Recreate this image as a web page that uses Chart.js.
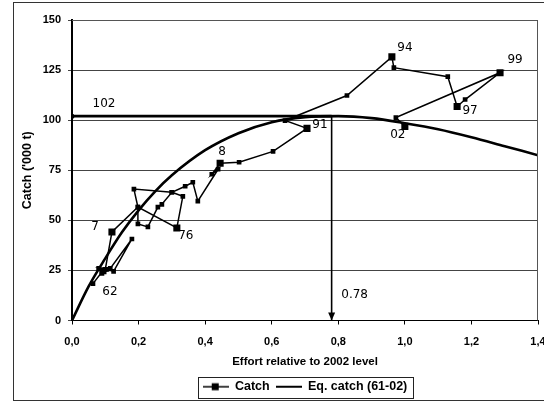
<!DOCTYPE html>
<html>
<head>
<meta charset="utf-8">
<script src="https://cdn.jsdelivr.net/npm/chart.js@4.4.1/dist/chart.umd.min.js"></script>
<style>
  html, body { margin: 0; padding: 0; background: #fff; }
  #c { display: block; }
</style>
</head>
<body>
<canvas id="c" width="544" height="403"></canvas>
<script>
// Yearly catch ('000 t) against fishing effort relative to the 2002 level
const catchEffort = [0.063, 0.093, 0.080, 0.105, 0.125, 0.180, 0.115, 0.090, 0.100, 0.120,
                     0.198, 0.186, 0.300, 0.333, 0.315, 0.198, 0.198, 0.228, 0.258, 0.270,
                     0.300, 0.340, 0.363, 0.378, 0.439, 0.420, 0.445, 0.502, 0.604, 0.706,
                     0.640, 0.826, 0.961, 0.967, 1.129, 1.157, 1.181, 1.286, 0.973, 1.000];
const catchTonnes = [18.4, 24.8, 26.0, 25.5, 24.5, 40.7, 26.0, 23.5, 25.5, 44.2,
                     56.6, 65.6, 64.0, 62.0, 46.2, 56.6, 48.2, 46.7, 56.6, 58.0,
                     64.0, 67.0, 69.0, 59.6, 75.5, 73.0, 78.5, 79.0, 84.4, 95.9,
                     99.8, 112.3, 131.6, 126.2, 121.7, 106.8, 110.3, 123.7, 101.3, 96.9];
const catchYearTags = ['', '62', '', '', '', '', '', '', '', '7',
                       '', '', '', '', '76', '', '', '', '', '',
                       '', '', '', '', '', '', '8', '', '', '91',
                       '', '', '94', '', '', '97', '', '99', '', '02'];

// Equilibrium catch curve (fitted over 1961-02)
const eqEffort = [0, 0.05, 0.10, 0.15, 0.20, 0.25, 0.30, 0.40, 0.50, 0.60, 0.70, 0.80, 0.90, 1.00, 1.10, 1.20, 1.30, 1.40];
const eqCatch  = [0, 17.0, 31.0, 44.0, 55.0, 64.5, 72.5, 85.0, 93.5, 99.0, 101.5, 102.0, 101.0, 98.5, 95.5, 91.5, 87.0, 82.5];

// Maximum equilibrium catch and the effort that gives it
const msyCatch = 102;
const msyEffort = 0.78;
const msyCatchLabel = '102';
const msyEffortLabel = '0.78';

// Axis tick labels
const xTickLabels = ['0,0', '0,2', '0,4', '0,6', '0,8', '1,0', '1,2', '1,4'];
const yTickLabels = ['0', '25', '50', '75', '100', '125', '150'];

// Where each year tag sits relative to its marker (px)
const tagOffsets = {
  '62': [7, 21], '7': [-17, -5], '76': [9, 8], '8': [2, -11], '91': [13, -4],
  '94': [13, -9], '97': [13, 4], '99': [15, -13], '02': [-7, 8]
};

const FONT = "'Liberation Sans', Arial, sans-serif";
const LABEL_FONT = "12px 'DejaVu Sans', sans-serif";

// Legend icons: line with a square marker, and a plain line
function makeIcon(withMarker) {
  const cv = document.createElement('canvas');
  cv.width = 26; cv.height = 10;
  const g = cv.getContext('2d');
  g.strokeStyle = '#000';
  g.lineWidth = withMarker ? 1.5 : 2;
  g.beginPath(); g.moveTo(0, 5); g.lineTo(26, 5); g.stroke();
  if (withMarker) { g.fillStyle = '#000'; g.fillRect(9, 1.5, 7, 7); }
  return cv;
}
const legendIcons = [makeIcon(true), makeIcon(false)];

// Centre the legend under the plot area rather than the whole canvas
const legendUnderPlot = {
  id: 'legendUnderPlot',
  afterLayout(chart) {
    const lg = chart.legend;
    if (!lg) return;
    const a = chart.chartArea;
    const shift = (a.left + a.right) / 2 - (lg.left + lg.right) / 2;
    lg.left += shift;
    lg.right += shift;
  }
};

const decorations = {
  id: 'decorations',
  afterDraw(chart) {
    const { ctx, chartArea: a, scales: { x, y } } = chart;
    ctx.save();

    // outer frame
    ctx.strokeStyle = '#333';
    ctx.lineWidth = 1;
    ctx.strokeRect(13.5, 2.5, 545, 398);

    // plot box: top and right edges
    ctx.strokeStyle = '#555';
    ctx.beginPath();
    ctx.moveTo(a.left, a.top + 0.5);
    ctx.lineTo(a.right - 0.5, a.top + 0.5);
    ctx.lineTo(a.right - 0.5, a.bottom);
    ctx.stroke();

    // arrow head at the foot of the effort line
    const ax = x.getPixelForValue(msyEffort);
    const ay = y.getPixelForValue(0);
    ctx.fillStyle = '#000';
    ctx.beginPath();
    ctx.moveTo(ax, ay);
    ctx.lineTo(ax - 3.5, ay - 8);
    ctx.lineTo(ax + 3.5, ay - 8);
    ctx.closePath();
    ctx.fill();

    // year tags on the catch series
    ctx.font = LABEL_FONT;
    ctx.textAlign = 'center';
    ctx.textBaseline = 'middle';
    ctx.fillStyle = '#000';
    const pts = chart.getDatasetMeta(0).data;
    catchYearTags.forEach((t, i) => {
      if (!t) return;
      const off = tagOffsets[t] || [10, -8];
      ctx.fillText(t, pts[i].x + off[0], pts[i].y + off[1]);
    });

    // reference values
    ctx.fillText(msyCatchLabel, x.getPixelForValue(0) + 32, y.getPixelForValue(msyCatch) - 12);
    ctx.fillText(msyEffortLabel, ax + 23, ay - 26);

    // legend frame
    const boxes = chart.legend.legendHitBoxes;
    if (boxes && boxes.length) {
      const l = Math.min(...boxes.map(b => b.left)) - 5;
      const r = Math.max(...boxes.map(b => b.left + b.width)) + 5;
      const t = Math.min(...boxes.map(b => b.top)) - 4;
      const bt = Math.max(...boxes.map(b => b.top + b.height)) + 4;
      ctx.strokeStyle = '#222';
      ctx.lineWidth = 1;
      ctx.strokeRect(Math.round(l) + 0.5, Math.round(t) + 0.5, Math.round(r - l), Math.round(bt - t));
    }
    ctx.restore();
  }
};

new Chart(document.getElementById('c'), {
  type: 'line',
  data: {
    datasets: [
      {
        label: 'Catch',
        data: catchEffort.map((e, i) => ({ x: e, y: catchTonnes[i] })),
        borderColor: '#000',
        backgroundColor: '#000',
        borderWidth: 1.5,
        pointStyle: 'rect',
        pointRadius: ctx => (catchYearTags[ctx.dataIndex] ? 5 : 3.3),
        pointBackgroundColor: '#000',
        pointBorderWidth: 0,
        tension: 0
      },
      {
        label: 'Eq. catch (61-02)',
        data: eqEffort.map((e, i) => ({ x: e, y: eqCatch[i] })),
        borderColor: '#000',
        borderWidth: 2.6,
        pointRadius: 0,
        cubicInterpolationMode: 'monotone'
      },
      {
        label: 'msy-catch',
        data: [{ x: 0, y: msyCatch }, { x: msyEffort, y: msyCatch }],
        borderColor: '#000',
        borderWidth: 2.6,
        pointRadius: [2.5, 0],
        pointBackgroundColor: '#000',
        pointBorderWidth: 0
      },
      {
        label: 'msy-effort',
        data: [{ x: msyEffort, y: msyCatch }, { x: msyEffort, y: 0 }],
        borderColor: '#000',
        borderWidth: 1.6,
        pointRadius: 0
      }
    ]
  },
  options: {
    responsive: false,
    animation: false,
    devicePixelRatio: 1,
    layout: { padding: { top: 20, right: 6, left: 0, bottom: 0 } },
    scales: {
      x: {
        type: 'linear',
        min: 0, max: 1.4,
        afterFit(s) { s.height = 54; s.paddingLeft = 0; s.paddingRight = 0; },
        ticks: {
          stepSize: 0.2,
          padding: 11,
          maxRotation: 0,
          autoSkip: false,
          color: '#000',
          font: { family: FONT, size: 11, weight: 'bold' },
          callback: (v, i) => xTickLabels[i]
        },
        grid: { drawOnChartArea: false, tickLength: 4, color: '#000' },
        border: { color: '#000', width: 1 },
        title: {
          display: true,
          text: 'Effort relative to 2002 level',
          color: '#000',
          font: { family: FONT, size: 11.5, weight: 'bold' },
          padding: { top: 0, bottom: 6 }
        }
      },
      y: {
        min: 0, max: 150,
        afterFit(s) { s.width = 72; },
        ticks: {
          stepSize: 25,
          padding: 7,
          color: '#000',
          font: { family: FONT, size: 11, weight: 'bold' },
          callback: (v, i) => yTickLabels[i]
        },
        grid: { color: '#444', lineWidth: 1, tickLength: 4 },
        border: { color: '#000', width: 2 },
        title: {
          display: true,
          text: "Catch ('000 t)",
          color: '#000',
          font: { family: FONT, size: 12.5, weight: 'bold' },
          padding: { top: 20, bottom: 0 }
        }
      }
    },
    plugins: {
      legend: {
        position: 'bottom',
        labels: {
          usePointStyle: true,
          pointStyleWidth: 26,
          padding: 6,
          color: '#000',
          font: { family: FONT, size: 12.5, weight: 'bold' },
          filter: item => item.datasetIndex < 2,
          generateLabels(chart) {
            const items = Chart.defaults.plugins.legend.labels.generateLabels(chart);
            items.forEach(it => { it.pointStyle = legendIcons[it.datasetIndex] || 'line'; });
            return items;
          }
        }
      },
      tooltip: { enabled: false }
    }
  },
  plugins: [legendUnderPlot, decorations]
});
</script>
</body>
</html>
